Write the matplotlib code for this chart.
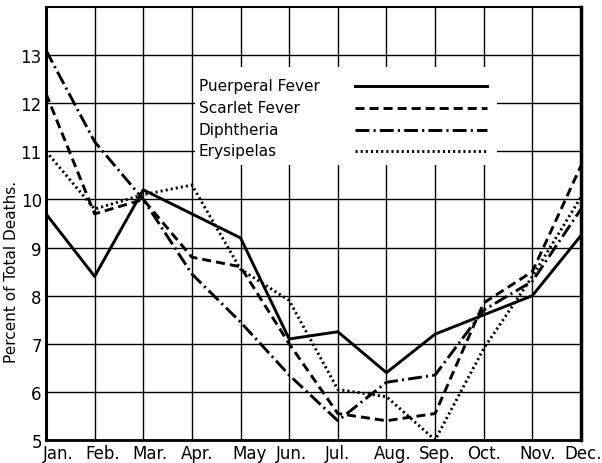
import matplotlib
matplotlib.use('Agg')
import matplotlib.pyplot as plt
from matplotlib.patches import Rectangle
from matplotlib.transforms import ScaledTranslation

plt.rcParams['font.family'] = 'DejaVu Sans'
plt.rcParams['lines.scale_dashes'] = False

months = ['Jan.', 'Feb.', 'Mar.', 'Apr.', 'May', 'Jun.', 'Jul.', 'Aug.', 'Sep.', 'Oct.', 'Nov.', 'Dec.']
puerperal = [9.7, 8.4, 10.2, 9.7, 9.2, 7.1, 7.25, 6.4, 7.2, 7.6, 8.0, 9.25]
scarlet = [12.2, 9.7, 10.0, 8.8, 8.6, 7.0, 5.55, 5.4, 5.55, 7.85, 8.5, 10.7]
diphtheria = [13.1, 11.2, 10.0, 8.45, 7.45, 6.35, 5.4, 6.2, 6.35, 7.7, 8.3, 9.8]
erysipelas = [11.0, 9.8, 10.1, 10.3, 8.55, 7.9, 6.05, 5.9, 5.0, 6.9, 8.4, 10.05]

names = ['Puerperal Fever', 'Scarlet Fever', 'Diphtheria', 'Erysipelas']
series = [puerperal, scarlet, diphtheria, erysipelas]
styles = ['-', (0, (6.5, 3.6)), (0, (10, 3, 1.5, 3)), (0, (1.5, 2.2))]

# small hand-set nudges of the month labels (pixels), as in the printed chart
label_shift = [12, 8, 7, 5, 9, 2, 0, 6, 2, 0, 5, 2]

fig = plt.figure(figsize=(6.02, 4.64), dpi=100)
ax = fig.add_axes([46 / 602, 1 - 441 / 464, 535 / 602, 433 / 464])

x = list(range(len(months)))
for vals, ls in zip(series, styles):
    ax.plot(x, vals, color='black', linestyle=ls, linewidth=2.1, zorder=3)

ax.set_xlim(0, 11)
ax.set_ylim(5, 14)
ax.set_xticks(x)
ax.set_xticklabels(months, fontsize=12)
ax.set_yticks(range(5, 14))
ax.set_yticklabels([str(v) for v in range(5, 14)], fontsize=12)
ax.tick_params(length=0, pad=3)
for lab, dx in zip(ax.get_xticklabels(), label_shift):
    lab.set_transform(lab.get_transform() + ScaledTranslation(dx / 100, 0, fig.dpi_scale_trans))
ax.grid(True, color='black', linewidth=1.0)
ax.set_axisbelow(True)
for side, lw in [('left', 2.2), ('right', 2.5), ('top', 1.5), ('bottom', 2.0)]:
    ax.spines[side].set_linewidth(lw)

# legend drawn by hand: labels left, line samples right
def ax_pt(px, py):
    return (px - 46) / 535, (441 - py) / 433

bx0, by0 = ax_pt(195, 166)
bx1, by1 = ax_pt(497, 68)
ax.add_patch(Rectangle((bx0, by0), bx1 - bx0, by1 - by0, transform=ax.transAxes,
                       facecolor='white', edgecolor='none', zorder=4))
rows = [87, 109, 130.5, 152]
for name, ls, py in zip(names, styles, rows):
    tx, ty = ax_pt(199, py)
    ax.text(tx, ty, name, transform=ax.transAxes, fontsize=11, va='center', ha='left', zorder=5)
    lx0, ly = ax_pt(355, py)
    lx1, _ = ax_pt(487, py)
    ax.plot([lx0, lx1], [ly, ly], transform=ax.transAxes, color='black', linestyle=ls,
            linewidth=2.1, zorder=5)

fig.text(12 / 602, 1 - 272 / 464, 'Percent of Total Deaths.', rotation=90,
         fontsize=11, va='center', ha='center')

fig.savefig('out.png', dpi=100)
